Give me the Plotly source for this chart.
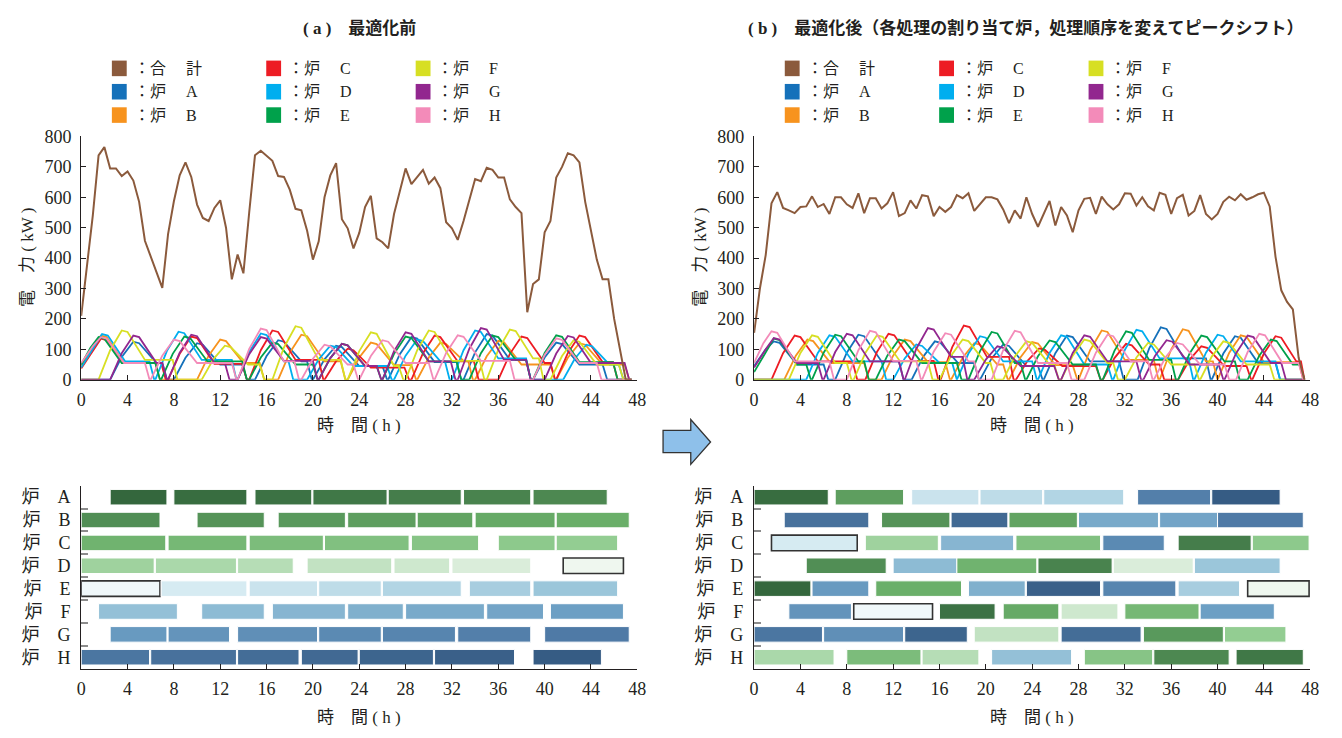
import plotly.graph_objects as go
from plotly.colors import sample_colorscale

W, H = 1342, 738
def px(x): return x / W
def py(y): return 1 - y / H

SERIF = "Liberation Serif, Noto Sans CJK JP, serif"
INK = "#231F20"

# ---------------- data ----------------
T_HALF = [0,0.5,1,1.5,2,2.5,3,3.5,4,4.5,5,5.5,6,6.5,7,7.5,8,8.5,9,9.5,10,10.5,11,11.5,12,12.5,13,13.5,14,14.5,
          15,15.5,16,16.5,17,17.5,18,18.5,19,19.5,20,20.5,21,21.5,22,22.5,23,23.5,24,24.5,25,25.5,26,26.5,27,27.5,
          28,28.5,29,29.5,30,30.5,31,31.5,32,32.5,33,33.5,34,34.5,35,35.5,36,36.5,37,37.5,38,38.5,39,39.5,40,40.5,
          41,41.5,42,42.5,43,43.5,44,44.5,45,45.5,46,46.5,47,47.5]

TOTAL_A = [210,370,540,738,765,695,695,670,685,655,
           585,457,403,355,302,480,587,672,715,667,
           576,532,522,565,590,500,330,412,350,550,
           738,753,738,720,670,667,625,562,557,490,
           395,455,600,672,712,528,498,432,483,568,
           605,465,452,432,545,620,695,643,667,690,
           645,665,630,518,498,460,522,590,660,653,
           697,690,665,665,593,568,548,222,315,330,
           485,522,665,700,745,738,715,585,490,395,
           330,330,200,100,0,0]

TOTAL_B = [154,300,410,580,617,565,557,548,568,570,
           603,568,578,545,600,600,577,565,613,548,
           597,597,563,580,617,538,548,590,563,607,
           603,538,568,552,568,607,597,613,555,578,
           600,600,593,560,515,557,530,600,545,503,
           545,588,507,568,540,485,557,595,598,545,
           602,577,560,577,613,612,573,600,570,557,
           615,608,545,597,608,540,555,607,545,527,
           545,585,602,590,610,592,600,610,615,570,
           405,294,256,231,72,0]

# furnace power vertices, panel (a)
A_a_t = [0,2.5,3.5,4.5,5,6.5,7,7.4, 8,9,10,10.5,12,13.9,14.3, 15,16,17,17.5,19,19.5,19.9, 20,21,22,22.5,24,26,26.4, 26.5,27.5,28.5,29,30.5,32.4,32.8, 33,34,35,35.5,37,38.4,38.8, 39,40,41,41.5,43,45,45.4, 47.5]
A_a_kw = [0,0,75,125,120,55,55,0, 0,72,120,115,50,50,0, 0,78,130,125,60,60,0, 0,67,112,107,45,45,0, 0,84,140,135,58,58,0, 0,90,150,145,65,65,0, 0,73,122,117,50,50,0, 0]
B_a_t = [0,1,1.7,2.2,3.7,6.4,6.8, 10,11,12,12.5,14,15.4,15.8, 17,18,19,19.5,21,22.4,22.8, 23,24,25,25.5,27,28.5,28.9, 29,30,31,31.5,33,33.4,33.8, 34,35,36,36.5,38,40.5,40.9, 41,42,43,43.5,45,46.9,47.3, 47.5]
B_a_kw = [45,102,145,140,55,55,0, 0,79,132,127,55,55,0, 0,89,148,143,60,60,0, 0,73,122,117,48,48,0, 0,73,122,117,62,62,0, 0,77,128,123,50,50,0, 0,72,120,115,50,50,0, 0]
C_a_t = [0,1,1.7,2.2,3.7,6.9,7.3, 7.5,8.5,9.5,10,11.5,13.9,14.3, 14.5,15.5,16.5,17,18.5,20.5,20.9, 21,22,23,23.5,25,27.9,28.3, 28.5,29.5,30.5,31,32.5,33.9,34.3, 36,37,38,38.5,40,40.5,40.9, 41,42,43,43.5,45,45.9,46.3, 47.5]
C_a_kw = [37,95,135,130,55,55,0, 0,85,142,137,52,52,0, 0,97,162,157,65,65,0, 0,61,102,97,40,40,0, 0,87,145,140,60,60,0, 0,85,142,137,55,55,0, 0,87,145,140,58,58,0, 0]
D_a_t = [0,1,1.8,2.3,3.8,5.9,6.3, 6.4,7.4,8.4,8.9,10.4,13,13.4, 13.5,14.5,15.5,16,17.5,17.9,18.3, 19.5,20.5,21.5,22,23.5,26.4,26.8, 27,28,29,29.5,31,31.4,31.8, 32,33,34,34.5,36,38.4,38.8, 41.6,42.6,43.6,44.1,45.6,46.4,46.8, 47.5]
D_a_kw = [40,100,150,145,60,60,0, 0,95,158,153,65,65,0, 0,91,152,147,60,60,0, 0,67,112,107,45,45,0, 0,79,132,127,60,60,0, 0,97,162,157,70,70,0, 0,69,115,110,50,50,0, 0]
E_a_t = [0,0.8,1.5,2,3.5,6.4,6.8, 6.9,7.9,8.9,9.4,10.9,13.9,14.3, 14.5,15.5,16.5,17,18.5,20,20.4, 20.5,21.5,22.5,23,24.5,25.5,25.9, 26,27,28,28.5,30,32.4,32.8, 33.5,34.5,35.5,36,37.5,38.4,38.8, 39,40,41,41.5,43,45.9,46.3, 47.5]
E_a_kw = [50,105,140,135,55,55,0, 0,85,142,137,60,60,0, 0,73,122,117,50,50,0, 0,71,118,113,45,45,0, 0,85,142,137,60,60,0, 0,87,145,140,65,65,0, 0,88,146,141,58,58,0, 0]
F_a_t = [0,1.5,2.5,3.5,4,5.5,7.9,8.3, 10.4,11.4,12.4,12.9,14.4,15.4,15.8, 16.5,17.5,18.5,19,20.5,22.4,22.8, 23,24,25,25.5,27,27.4,27.8, 28,29,30,30.5,32,34.4,34.8, 35,36,37,37.5,39,39.5,39.9, 40.5,41.5,42.5,43,44.5,46.4,46.8, 47.5]
F_a_kw = [0,0,97,162,157,65,65,0, 0,67,112,107,50,50,0, 0,106,176,171,65,65,0, 0,94,156,151,45,45,0, 0,97,162,157,62,62,0, 0,99,165,160,70,70,0, 0,78,130,125,50,50,0, 0]
G_a_t = [0,2.5,3.5,4.5,5,6.5,7,7.4, 7.5,8.5,9.5,10,11.5,12.4,12.8, 13.5,14.5,15.5,16,17.5,20,20.4, 20.5,21.5,22.5,23,24.5,25.5,25.9, 26,27,28,28.5,30,31.9,32.3, 32.5,33.5,34.5,35,36.5,38.4,38.8, 40,41,42,42.5,44,46.9,47.3, 47.5]
G_a_kw = [0,0,87,145,140,55,55,0, 0,89,148,143,55,55,0, 0,84,140,135,62,62,0, 0,71,118,113,45,45,0, 0,94,156,151,60,60,0, 0,102,170,165,65,65,0, 0,86,144,139,55,55,0, 0]
H_a_t = [0,1,1.7,2.2,3.7,5.5,5.9, 6,7,8,8.5,10,13,13.4, 13.5,14.5,15.5,16,17.5,18.4,18.8, 19,20,21,21.5,23,23.5,23.9, 24,25,26,26.5,28,30,30.4, 30.5,31.5,32.5,33,34.5,37,37.4, 39,40,41,41.5,43,44.5,44.9, 47.5]
H_a_kw = [55,110,140,135,55,55,0, 0,79,132,127,55,55,0, 0,101,168,163,60,60,0, 0,69,115,110,50,50,0, 0,78,130,125,55,55,0, 0,88,146,141,62,62,0, 0,82,136,131,55,55,0, 0]

# furnace power vertices, panel (b)
A_b_t = [0,1,1.7,2.2,3.7,6,6.4, 7,8,9,9.5,11,12.5,12.9, 13.6,14.6,15.6,16.1,17.6,19,19.4, 19.5,20.5,21.5,22,23.5,24.5,24.9, 25,26,27,27.5,29,31.5,31.9, 33.1,34.1,35.1,35.6,37.1,39,39.4, 39.5,40.5,41.5,42,43.5,45,45.4, 47.5]
A_b_kw = [45,100,126,121,50,50,0, 0,89,148,143,60,60,0, 0,76,126,121,55,55,0, 0,70,116,111,45,45,0, 0,87,145,140,60,60,0, 0,103,172,167,70,70,0, 0,86,143,138,55,55,0, 0]
B_b_t = [0,2.6,3.6,4.6,5.1,6.6,9.5,9.9, 11,12,13,13.5,15,16.5,16.9, 17,18,19,19.5,21,21.5,21.9, 22,23,24,24.5,26,27.5,27.9, 28,29,30,30.5,32,34.5,34.9, 35,36,37,37.5,39,39.6,40, 40,41,42,42.5,44,47,47.4, 47.5]
B_b_kw = [0,0,79,132,127,55,55,0, 0,79,132,127,58,58,0, 0,72,120,115,50,50,0, 0,74,124,119,48,48,0, 0,97,162,157,65,65,0, 0,100,166,161,60,60,0, 0,88,146,141,58,58,0, 0]
C_b_t = [0,1.5,2.5,3.5,4,5.5,8.5,8.9, 9.6,10.6,11.6,12.1,13.6,15.5,15.9, 16.1,17.1,18.1,18.6,20.1,22,22.4, 22.6,23.6,24.6,25.1,26.6,29.5,29.9, 30.1,31.1,32.1,32.6,34.1,35,35.4, 36.6,37.6,38.6,39.1,40.6,42.5,42.9, 43,44,45,45.5,46.8,47.2,47.5]
C_b_kw = [0,0,87,145,140,60,60,0, 0,91,151,146,62,62,0, 0,107,178,173,75,75,0, 0,62,103,98,45,45,0, 0,71,118,113,50,50,0, 0,66,110,105,45,45,0, 0,86,143,138,60,60,0]
D_b_t = [0,4.5,5.5,6.5,7,8.5,11,11.4, 12,13,14,14.5,16,17.1,17.5, 17.5,18.5,19.5,20,21.5,24,24.4, 24.5,25.5,26.5,27,28.5,30.5,30.9, 31,32,33,33.5,35,37.5,37.9, 38,39,40,40.5,42,45,45.4, 47.5]
D_b_kw = [0,0,88,146,141,60,60,0, 0,70,116,111,55,55,0, 0,86,143,138,60,60,0, 0,88,146,141,50,50,0, 0,98,164,159,70,70,0, 0,89,148,143,60,60,0, 0]
E_b_t = [0,1,1.7,2.2,3.7,4.5,4.9, 5,6,7,7.5,9,9.5,9.9, 10.5,11.5,12.5,13,14.5,17.5,17.9, 18.5,19.5,20.5,21,22.5,23,23.4, 23.5,24.5,25.5,26,27.5,29.5,29.9, 30.1,31.1,32.1,32.6,34.1,36,36.4, 36.6,37.6,38.6,39.1,40.6,41.5,41.9, 42.6,43.6,44.6,45.1,46.5,47.1,47.5]
E_b_kw = [25,90,135,130,50,50,0, 0,89,148,143,60,60,0, 0,79,132,127,55,55,0, 0,94,157,152,55,55,0, 0,77,129,124,50,50,0, 0,95,159,154,65,65,0, 0,87,145,140,60,60,0, 0,79,132,127,50,50,0]
F_b_t = [0,3,4,5,5.5,7,8,8.4, 8.6,9.6,10.6,11.1,12.6,15,15.4, 16,17,18,18.5,20,20.4,20.8, 21.5,22.5,23.5,24,25.5,25.9,26.3, 26.5,27.5,28.5,29,30.5,31,31.4, 32,33,34,34.5,36,38,38.4, 38.5,39.5,40.5,41,42.5,44.5,44.9, 47.5]
F_b_kw = [0,0,88,146,141,55,55,0, 0,88,146,141,60,60,0, 0,79,132,127,55,55,0, 0,76,126,121,50,50,0, 0,79,132,127,55,55,0, 0,73,121,116,50,50,0, 0,76,126,121,50,50,0, 0]
G_b_t = [0,1,1.7,2.2,3.7,5.5,5.9, 6,7,8,8.5,10,12.5,12.9, 13,14,15,15.5,17,18,18.4, 19,20,21,21.5,23,25.9,26.3, 26.5,27.5,28.5,29,30.5,33,33.4, 33.6,34.6,35.6,36.1,37.6,40.1,40.5, 40.6,41.6,42.6,43.1,44.6,45.5,45.9, 47.5]
G_b_kw = [40,100,137,132,55,55,0, 0,91,151,146,60,60,0, 0,102,170,165,75,75,0, 0,66,110,105,45,45,0, 0,88,146,141,60,60,0, 0,78,130,125,50,50,0, 0,87,145,140,55,55,0, 0]
H_b_t = [0,0.8,1.5,2,3.5,6.5,6.9, 8,9,10,10.5,12,14,14.4, 14.5,15.5,16.5,17,18.5,19,19.4, 20.5,21.5,22.5,23,24.5,27,27.4, 28.5,29.5,30.5,31,32.5,34,34.4, 34.5,35.5,36.5,37,38.5,40.6,41, 41.6,42.6,43.6,44.1,45.6,47,47.4, 47.5]
H_b_kw = [55,120,159,154,60,60,0, 0,97,161,156,62,62,0, 0,92,153,148,60,60,0, 0,97,161,156,55,55,0, 0,89,148,143,60,60,0, 0,73,121,116,50,50,0, 0,91,151,146,55,55,0, 0]

FURNACES = ["A", "B", "C", "D", "E", "F", "G", "H"]
ROW_LABELS = ["炉　A", "炉　B", "炉　C", "炉　D", "炉　E", "炉　F", "炉　G", "炉　H"]

# Gantt (a): furnace, start, end, job id, outlined
GA_ROW = ["A"]*7 + ["B"]*7 + ["C"]*7 + ["D"]*7 + ["E"]*7 + ["F"]*7 + ["G"]*7 + ["H"]*7
GA_START = [2.5,8,15,20,26.5,33,39,
            0,10,17,23,29,34,41,
            0,7.5,14.5,21,28.5,36,41,
            0,6.4,13.5,19.5,27,32,41.6,
            0,6.9,14.5,20.5,26,33.5,39,
            1.5,10.4,16.5,23,28,35,40.5,
            2.5,7.5,13.5,20.5,26,32.5,40,
            0,6,13.5,19,24,30.5,39]
GA_END = [7.4,14.3,19.9,26.4,32.8,38.8,45.4,
          6.8,15.8,22.8,28.9,33.8,40.9,47.3,
          7.3,14.3,20.9,28.3,34.3,40.9,46.3,
          6.3,13.4,18.3,26.8,31.8,38.8,46.8,
          6.8,14.3,20.4,25.9,32.8,38.8,46.3,
          8.3,15.8,22.8,27.8,34.8,39.9,46.8,
          7.4,12.8,20.4,25.9,32.3,38.8,47.3,
          5.9,13.4,18.8,23.9,30.4,37.4,44.9]
GA_JOB = [0,1,2,3,4,5,6, 7,8,9,10,11,12,13, 14,15,16,17,18,19,20, 21,22,23,24,25,26,27,
          28,29,30,31,32,33,34, 35,36,37,38,39,40,41, 42,43,44,45,46,47,48, 49,50,51,52,53,54,55]
GA_OUT = [0]*27 + [1, 1] + [0]*27

# Gantt (b)
GB_ROW = ["A"]*7 + ["B"]*7 + ["C"]*7 + ["D"]*6 + ["E"]*8 + ["F"]*7 + ["G"]*7 + ["H"]*7
GB_START = [0,7,13.6,19.5,25,33.1,39.5,
            2.6,11,17,22,28,35,40,
            1.5,9.6,16.1,22.6,30.1,36.6,43,
            4.5,12,17.5,24.5,31,38,
            0,5,10.5,18.5,23.5,30.1,36.6,42.6,
            3,8.6,16,21.5,26.5,32,38.5,
            0,6,13,19,26.5,33.6,40.6,
            0,8,14.5,20.5,28.5,34.5,41.6]
GB_END = [6.4,12.9,19.4,24.9,31.9,39.4,45.4,
          9.9,16.9,21.9,27.9,34.9,40,47.4,
          8.9,15.9,22.4,29.9,35.4,42.9,47.9,
          11.4,17.5,24.4,30.9,37.9,45.4,
          4.9,9.9,17.9,23.4,29.9,36.4,41.9,47.9,
          8.4,15.4,20.8,26.3,31.4,38.4,44.9,
          5.9,12.9,18.4,26.3,33.4,40.5,45.9,
          6.9,14.4,19.4,27.4,34.4,41,47.4]
GB_JOB = [1,10,30,31,32,47,55,
          50,8,52,11,39,40,48,
          29,21,37,17,45,4,19,
          7,36,14,5,26,34,
          0,42,13,38,54,46,33,27,
          43,28,2,12,25,15,41,
          49,44,53,24,51,9,20,
          22,16,23,35,18,6,3]
GB_OUT = [0]*7 + [0]*7 + [1,0,0,0,0,0,0] + [0]*6 + [0,0,0,0,0,0,0,1] + [0,1,0,0,0,0,0] + [0]*7 + [0]*7

LEGEND_NAMES = ["：合　 計", "：炉　 A", "：炉　 B", "：炉　 C", "：炉　 D", "：炉　 E", "：炉　 F", "：炉　 G", "：炉　 H"]

# ---------------- styles ----------------
C_TOTAL = "#8B5A3C"
FCOL = ["#1571BA", "#F7931E", "#ED1C24", "#00AEEF", "#00A14B", "#D7DF23", "#92278F", "#F38BB9"]
LEG_COLORS = [C_TOTAL] + FCOL
JOB_SCALE = [[0, "#34673D"], [0.236, "#6AAF69"], [0.364, "#93CD92"], [0.473, "#DAEDDA"],
             [0.491, "#EFF7EF"], [0.509, "#F0F8FA"], [0.527, "#D6EBF2"], [0.618, "#9BC6DA"],
             [0.745, "#6C9FC4"], [0.873, "#4F7AA6"], [1, "#365C84"]]

fig = go.Figure()

series_a = [(A_a_t, A_a_kw), (B_a_t, B_a_kw), (C_a_t, C_a_kw), (D_a_t, D_a_kw),
            (E_a_t, E_a_kw), (F_a_t, F_a_kw), (G_a_t, G_a_kw), (H_a_t, H_a_kw)]
series_b = [(A_b_t, A_b_kw), (B_b_t, B_b_kw), (C_b_t, C_b_kw), (D_b_t, D_b_kw),
            (E_b_t, E_b_kw), (F_b_t, F_b_kw), (G_b_t, G_b_kw), (H_b_t, H_b_kw)]

for (xa, ya), (panel, total) in zip([("x", "y"), ("x2", "y2")], [(series_a, TOTAL_A), (series_b, TOTAL_B)]):
    for i, (t, kw) in enumerate(panel):
        fig.add_trace(go.Scatter(x=t, y=kw, mode="lines", xaxis=xa, yaxis=ya,
                                 line=dict(color=FCOL[i], width=1.8), showlegend=False,
                                 name="炉 " + FURNACES[i]))
    fig.add_trace(go.Scatter(x=T_HALF, y=total, mode="lines", xaxis=xa, yaxis=ya,
                             line=dict(color=C_TOTAL, width=2), showlegend=False, name="合計"))

def gantt(rows, starts, ends, jobs, outl, xa, ya):
    cols = sample_colorscale(JOB_SCALE, [j / 55 for j in jobs])
    lc = ["#333333" if o else "#FFFFFF" for o in outl]
    lw = [1.6 if o else 1.0 for o in outl]
    fig.add_trace(go.Bar(orientation="h",
                         y=[ROW_LABELS[FURNACES.index(r)] for r in rows],
                         x=[e - s for s, e in zip(starts, ends)], base=starts,
                         width=0.68, xaxis=xa, yaxis=ya, showlegend=False,
                         marker=dict(color=cols, line=dict(color=lc, width=lw))))

gantt(GA_ROW, GA_START, GA_END, GA_JOB, GA_OUT, "x3", "y3")
gantt(GB_ROW, GB_START, GB_END, GB_JOB, GB_OUT, "x4", "y4")

num_font = dict(family=SERIF, size=18, color=INK)
common_x = dict(range=[0, 48], tickvals=[0, 4, 8, 12, 16, 20, 24, 28, 32, 36, 40, 44, 48],
                showline=True, linecolor=INK, linewidth=1.3, ticks="inside", ticklen=5,
                tickcolor=INK, tickwidth=1.2, showgrid=False, zeroline=False,
                tickfont=num_font, ticklabelstandoff=4)
line_y = dict(range=[0, 800], tickvals=[0, 100, 200, 300, 400, 500, 600, 700, 800],
              showline=True, linecolor=INK, linewidth=1.3, ticks="inside", ticklen=5,
              tickcolor=INK, tickwidth=1.2, showgrid=False, zeroline=False,
              tickfont=num_font, ticklabelstandoff=5)
gantt_y = dict(type="category", categoryorder="array", categoryarray=ROW_LABELS,
               range=[7.5, -0.5], showline=True, linecolor=INK, linewidth=1.3,
               ticks="inside", tickson="boundaries", ticklen=7, tickcolor="#8C8C8C",
               tickwidth=2, showgrid=False, zeroline=False,
               tickfont=dict(family=SERIF, size=18, color=INK), ticklabelstandoff=6)

XA = [px(77), px(639)]
XB = [px(757), px(1319)]
YL = [py(380), py(130)]
YG = [py(677), py(489)]

fig.update_layout(
    width=W, height=H, margin=dict(l=0, r=0, t=0, b=0),
    paper_bgcolor="white", plot_bgcolor="white", barmode="overlay",
    font=dict(family=SERIF, color=INK),
    xaxis=dict(domain=XA, anchor="y", **common_x),
    yaxis=dict(domain=YL, anchor="x", **line_y),
    xaxis2=dict(domain=XB, anchor="y2", **common_x),
    yaxis2=dict(domain=YL, anchor="x2", **line_y),
    xaxis3=dict(domain=XA, anchor="y3", **common_x),
    yaxis3=dict(domain=YG, anchor="x3", **gantt_y),
    xaxis4=dict(domain=XB, anchor="y4", **common_x),
    yaxis4=dict(domain=YG, anchor="x4", **gantt_y),
)

ann = []
shapes = []
def text(x, y, s, size=17, angle=0, xanchor="center", bold=False):
    ann.append(dict(x=px(x), y=py(y), xref="paper", yref="paper", text=(f"<b>{s}</b>" if bold else s),
                    showarrow=False, textangle=angle, xanchor=xanchor, yanchor="middle",
                    font=dict(family=SERIF, size=size, color=INK)))

# titles
text(358, 19, "( a )　最適化前", size=17, bold=True)
text(1031, 19, "( b )　最適化後（各処理の割り当て炉，処理順序を変えてピークシフト）", size=17, bold=True)

for off in (0, 680):
    # legend
    for i, (name, col) in enumerate(zip(LEGEND_NAMES, LEG_COLORS)):
        cx = [108, 264, 415][i // 3] + off
        cy = [60, 84, 108][i % 3]
        shapes.append(dict(type="rect", xref="paper", yref="paper",
                           x0=px(cx), x1=px(cx + 15), y0=py(cy + 8), y1=py(cy - 8),
                           fillcolor=col, line=dict(width=0)))
        text(cx + 20, cy, name, size=16, xanchor="left")
    # axis titles
    text(22 + off, 254, "電　力 ( kW )", size=17, angle=-90)
    text(358 + off, 427, "時　間 ( h )", size=17)
    text(358 + off, 727, "時　間 ( h )", size=17)

# arrow
pts = [(665, 432), (693, 432), (693, 421), (713, 444), (693, 467), (693, 455), (665, 455)]
path = "M " + " L ".join(f"{px(a):.5f},{py(b):.5f}" for a, b in pts) + " Z"
shapes.append(dict(type="path", xref="paper", yref="paper", path=path,
                   fillcolor="#8EC0EA", line=dict(color="#333333", width=1.3)))

fig.update_layout(annotations=ann, shapes=shapes)
fig.write_html("out.html", config={"displayModeBar": False},
               post_script="document.body.style.margin='0px';document.body.style.overflow='hidden';")
